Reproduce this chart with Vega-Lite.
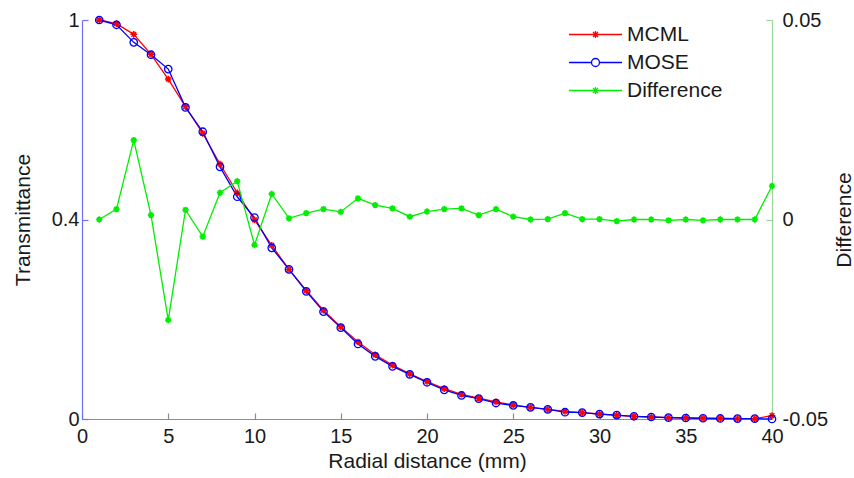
{
  "$schema": "https://vega.github.io/schema/vega-lite/v6.json",
  "width": 690,
  "height": 399,
  "autosize": {"type": "none"},
  "padding": {"left": 82, "top": 20, "right": 82, "bottom": 59},
  "background": "white",
  "config": {
    "view": {"stroke": null},
    "font": "Liberation Sans",
    "axis": {
      "grid": false,
      "labelFontSize": 20,
      "titleFontSize": 21,
      "titleFontWeight": "normal",
      "labelColor": "#1a1a1a",
      "titleColor": "#1a1a1a",
      "tickSize": -6,
      "labelFlush": false,
      "labelPadding": 9,
      "domainWidth": 1.2,
      "tickWidth": 1.2
    }
  },
  "datasets": {
    "d": [
      {"r": 1, "MCML": 1.0, "MOSE": 1.0, "Difference": 0.0},
      {"r": 2, "MCML": 0.991, "MOSE": 0.988, "Difference": 0.0026},
      {"r": 3, "MCML": 0.964, "MOSE": 0.944, "Difference": 0.0199},
      {"r": 4, "MCML": 0.914, "MOSE": 0.913, "Difference": 0.0011},
      {"r": 5, "MCML": 0.852, "MOSE": 0.877, "Difference": -0.0252},
      {"r": 6, "MCML": 0.783, "MOSE": 0.781, "Difference": 0.0024},
      {"r": 7, "MCML": 0.716, "MOSE": 0.72, "Difference": -0.0043},
      {"r": 8, "MCML": 0.639, "MOSE": 0.632, "Difference": 0.0067},
      {"r": 9, "MCML": 0.567, "MOSE": 0.557, "Difference": 0.0096},
      {"r": 10, "MCML": 0.499, "MOSE": 0.505, "Difference": -0.0064},
      {"r": 11, "MCML": 0.435, "MOSE": 0.429, "Difference": 0.0064},
      {"r": 12, "MCML": 0.375, "MOSE": 0.375, "Difference": 0.0003},
      {"r": 13, "MCML": 0.322, "MOSE": 0.32, "Difference": 0.0016},
      {"r": 14, "MCML": 0.272, "MOSE": 0.269, "Difference": 0.0026},
      {"r": 15, "MCML": 0.231, "MOSE": 0.229, "Difference": 0.0019},
      {"r": 16, "MCML": 0.193, "MOSE": 0.188, "Difference": 0.0053},
      {"r": 17, "MCML": 0.161, "MOSE": 0.157, "Difference": 0.0036},
      {"r": 18, "MCML": 0.135, "MOSE": 0.132, "Difference": 0.0028},
      {"r": 19, "MCML": 0.113, "MOSE": 0.112, "Difference": 0.0007},
      {"r": 20, "MCML": 0.094, "MOSE": 0.092, "Difference": 0.002},
      {"r": 21, "MCML": 0.076, "MOSE": 0.073, "Difference": 0.0026},
      {"r": 22, "MCML": 0.062, "MOSE": 0.059, "Difference": 0.0028},
      {"r": 23, "MCML": 0.052, "MOSE": 0.051, "Difference": 0.0011},
      {"r": 24, "MCML": 0.043, "MOSE": 0.04, "Difference": 0.0026},
      {"r": 25, "MCML": 0.035, "MOSE": 0.034, "Difference": 0.0007},
      {"r": 26, "MCML": 0.029, "MOSE": 0.029, "Difference": 0.0},
      {"r": 27, "MCML": 0.024, "MOSE": 0.024, "Difference": 0.0001},
      {"r": 28, "MCML": 0.019, "MOSE": 0.017, "Difference": 0.0016},
      {"r": 29, "MCML": 0.016, "MOSE": 0.016, "Difference": 0.0001},
      {"r": 30, "MCML": 0.0125, "MOSE": 0.0124, "Difference": 0.0001},
      {"r": 31, "MCML": 0.0093, "MOSE": 0.0097, "Difference": -0.0004},
      {"r": 32, "MCML": 0.0068, "MOSE": 0.0068, "Difference": 0.0},
      {"r": 33, "MCML": 0.005, "MOSE": 0.005, "Difference": 0.0},
      {"r": 34, "MCML": 0.0033, "MOSE": 0.0035, "Difference": -0.0002},
      {"r": 35, "MCML": 0.0025, "MOSE": 0.0025, "Difference": 0.0},
      {"r": 36, "MCML": 0.0017, "MOSE": 0.0019, "Difference": -0.0002},
      {"r": 37, "MCML": 0.0013, "MOSE": 0.0013, "Difference": 0.0},
      {"r": 38, "MCML": 0.001, "MOSE": 0.001, "Difference": 0.0},
      {"r": 39, "MCML": 0.0008, "MOSE": 0.0008, "Difference": 0.0},
      {"r": 40, "MCML": 0.0084, "MOSE": 0.0, "Difference": 0.0084}
    ]
  },
  "data": {"name": "d"},
  "encoding": {
    "x": {
      "field": "r",
      "type": "quantitative",
      "scale": {"domain": [0, 40], "nice": false},
      "axis": {
        "values": [0, 5, 10, 15, 20, 25, 30, 35, 40],
        "title": "Radial distance (mm)",
        "domainColor": "#8c8c8c",
        "tickColor": "#8c8c8c",
        "labelPadding": 13,
        "titlePadding": 4
      }
    },
    "color": {
      "field": "series",
      "type": "nominal",
      "scale": {"domain": ["MCML", "MOSE", "Difference"], "range": ["#ff0000", "#0000ff", "#00ee00"]},
      "legend": {
        "orient": "none",
        "legendX": 503,
        "legendY": 4,
        "title": null,
        "padding": 0,
        "labelFontSize": 21,
        "labelColor": "#1a1a1a",
        "symbolSize": 100,
        "labelOffset": 21,
        "rowPadding": 6,
        "symbolStrokeWidth": 1.3,
        "encode": {
          "symbols": {
            "update": {
              "shape": {"signal": "datum.value === 'MOSE' ? 'M-5.3,0H-0.8M0.8,0H5.3M0.8,0A0.8,0.8,0,1,1,-0.8,0A0.8,0.8,0,1,1,0.8,0' : 'M-5.3,0H5.3M-0.7,0H0.7M0,-0.7V0.7M-0.5,-0.5L0.5,0.5M-0.5,0.5L0.5,-0.5'"},
              "fill": {"value": "transparent"},
              "opacity": {"value": 1}
            }
          }
        }
      }
    }
  },
  "layer": [
    {
      "transform": [{"fold": ["MCML", "MOSE"], "as": ["series", "value"]}],
      "encoding": {
        "y": {
          "field": "value",
          "type": "quantitative",
          "scale": {"domain": [0, 1], "nice": false},
          "axis": {
            "title": "Transmittance",
            "values": [0, 0.5, 1],
            "labelExpr": "datum.value == 0.5 ? '0.4' : (datum.value == 1 ? '1' : '0')",
            "domainColor": "#7070ff",
            "tickColor": "#7070ff",
            "titlePadding": 18
          }
        }
      },
      "layer": [
        {"mark": {"type": "line", "strokeWidth": 1.3}},
        {
          "transform": [{"filter": "datum.series === 'MCML'"}],
          "mark": {"type": "point", "shape": "M-1,0H1M0,-1V1M-0.7,-0.7L0.7,0.7M-0.7,0.7L0.7,-0.7", "filled": false, "strokeWidth": 1.5, "size": 45, "opacity": 1}
        },
        {
          "transform": [{"filter": "datum.series === 'MOSE'"}],
          "mark": {"type": "point", "shape": "circle", "filled": false, "strokeWidth": 1.3, "size": 55, "opacity": 1}
        }
      ]
    },
    {
      "transform": [{"fold": ["Difference"], "as": ["series", "value"]}],
      "encoding": {
        "y": {
          "field": "value",
          "type": "quantitative",
          "scale": {"domain": [-0.05, 0.05], "nice": false},
          "axis": {
            "orient": "right",
            "title": "Difference",
            "titleAngle": 270,
            "values": [-0.05, 0, 0.05],
            "labelExpr": "datum.value > 0.01 ? '0.05' : (datum.value < -0.01 ? '-0.05' : '0')",
            "domainColor": "#99d699",
            "tickColor": "#99d699",
            "labelPadding": 16,
            "titlePadding": 27
          }
        }
      },
      "layer": [
        {"mark": {"type": "line", "strokeWidth": 1.3}},
        {"mark": {"type": "point", "shape": "M-1,0H1M0,-1V1M-0.7,-0.7L0.7,0.7M-0.7,0.7L0.7,-0.7", "filled": false, "strokeWidth": 1.7, "size": 40, "opacity": 1}}
      ]
    }
  ],
  "resolve": {"scale": {"y": "independent"}}
}
